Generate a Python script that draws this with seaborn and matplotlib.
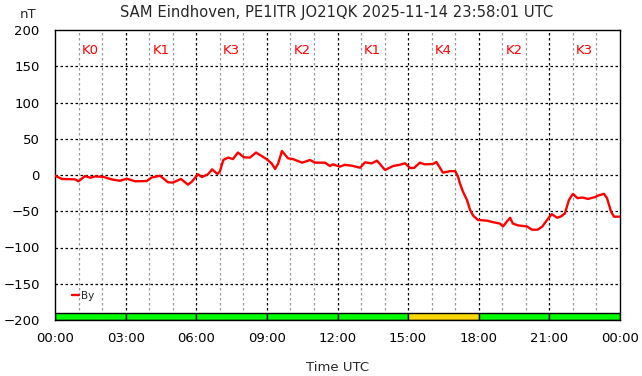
import pandas as pd
import seaborn as sns
import matplotlib.pyplot as plt

# By component, hours since 00:00 UTC and nT
hours = [0.0, 0.3, 0.85, 1.0, 1.27, 1.5, 1.7, 2.05, 2.4, 2.76, 3.05, 3.4, 3.9, 4.1,
         4.46, 4.8, 5.0, 5.35, 5.65, 5.82, 6.07, 6.24, 6.5, 6.67, 6.9, 7.0, 7.15,
         7.35, 7.56, 7.77, 8.03, 8.28, 8.54, 9.0, 9.2, 9.35, 9.48, 9.64, 9.9, 10.1,
         10.5, 10.83, 11.05, 11.47, 11.68, 11.8, 12.1, 12.3, 12.6, 12.96, 13.17,
         13.45, 13.68, 14.02, 14.36, 14.6, 14.87, 15.08, 15.25, 15.5, 15.7, 16.06,
         16.2, 16.48, 16.78, 17.0, 17.12, 17.2, 17.33, 17.5, 17.63, 17.76, 17.97,
         18.35, 18.6, 18.9, 19.03, 19.2, 19.33, 19.45, 19.67, 20.05, 20.26, 20.5,
         20.7, 20.95, 21.1, 21.33, 21.5, 21.66, 21.83, 22.0, 22.2, 22.4, 22.64,
         22.94, 23.1, 23.32, 23.45, 23.62, 23.75, 24.0]
by_nt = [-1, -5.5, -6, -8.7, -1.5, -3.7, -2, -2.5, -6, -8, -5, -8.7, -8.3, -3.5,
         -1, -10, -10.5, -5.5, -13.3, -9, 1, -2.8, 1, 7.8, 1.4, 4.6, 20.7,
         24, 22, 31, 24.4, 24, 31, 21.6, 16, 8.3, 16, 33, 23, 22,
         17, 20.7, 17, 17, 12.4, 14.7, 11.5, 14, 12.9, 10, 17.5,
         16, 19.8, 6.9, 12.4, 13.8, 16.1, 9.7, 9.7, 17, 14.7, 15.2,
         18, 3.2, 5.3, 5.3, -2.3, -11.5, -23, -34.5, -48, -56, -62,
         -63, -65, -67, -71, -64, -59, -67, -69.5, -71, -75.4, -75.5,
         -71, -60, -54, -59, -57, -53, -34.5, -26, -32, -31, -33,
         -30.5, -28, -26, -32, -50.6, -57.5, -57.5]

# K index per 3-hour block
k_start = [0, 3, 6, 9, 12, 15, 18, 21]
k_index = [0, 1, 3, 2, 1, 4, 2, 3]

tick_hours = [0, 3, 6, 9, 12, 15, 18, 21, 24]
tick_labels = ["00:00", "03:00", "06:00", "09:00", "12:00", "15:00", "18:00", "21:00", "00:00"]

df = pd.DataFrame({"hour": hours, "By": by_nt})
kdf = pd.DataFrame({"start": k_start, "K": k_index})
kdf["mid"] = kdf["start"] + 1.5
kdf["color"] = ["#FFD700" if k >= 4 else "#00FF00" for k in kdf["K"]]

sns.set_style("white")
plt.rcParams["font.family"] = ["DejaVu Sans"]

fig = plt.figure(figsize=(6.42, 3.76), dpi=100)
ax = fig.add_axes([55 / 642, 56 / 376, 565 / 642, 290 / 376])

# grid
for h in range(1, 24):
    if h % 3:
        ax.axvline(h, color="#999999", lw=0.9, ls=(0, (2, 2)), zorder=1)
    else:
        ax.axvline(h, color="black", lw=0.9, ls=(0, (2, 2)), zorder=1)
for v in range(-150, 200, 50):
    ax.axhline(v, color="black", lw=0.9, ls=(0, (2, 2)), zorder=1)

# K index bar at the bottom
ax.bar(kdf["mid"], 10, width=3, bottom=-200, color=kdf["color"],
       edgecolor="black", linewidth=1, zorder=2)
for _, r in kdf.iterrows():
    ax.text(r["mid"], 172, f"K{r['K']}", color="red", fontsize=9.5,
            ha="center", va="center")

sns.lineplot(data=df, x="hour", y="By", color="red", lw=1.7, sort=False,
             estimator=None, label="By", ax=ax, zorder=3)

ax.set_xlim(0, 24)
ax.set_ylim(-200, 200)
ax.set_xticks(tick_hours)
ax.set_xticklabels(tick_labels)
ax.set_yticks(range(-200, 201, 50))
ax.tick_params(axis="both", direction="in", length=4, labelsize=9.5, colors="black")
ax.tick_params(axis="y", pad=11)
ax.tick_params(axis="x", pad=9)
for s in ax.spines.values():
    s.set_color("black")
    s.set_linewidth(1)
ax.set_xlabel("Time UTC", fontsize=9.5, labelpad=11)
ax.set_ylabel("")
fig.text(28 / 642, 1 - 15 / 376, "nT", fontsize=9.5, ha="center", va="center")
fig.text(337 / 642, 1 - 12 / 376, "SAM Eindhoven, PE1ITR JO21QK 2025-11-14 23:58:01 UTC",
         fontsize=10.6, ha="center", va="center")

ax.legend(loc="center left", bbox_to_anchor=(0.03, 0.083), frameon=False,
          fontsize=7.5, handlelength=0.7, handletextpad=0.15, borderpad=0,
          borderaxespad=0)

fig.savefig("out.png", dpi=100)
